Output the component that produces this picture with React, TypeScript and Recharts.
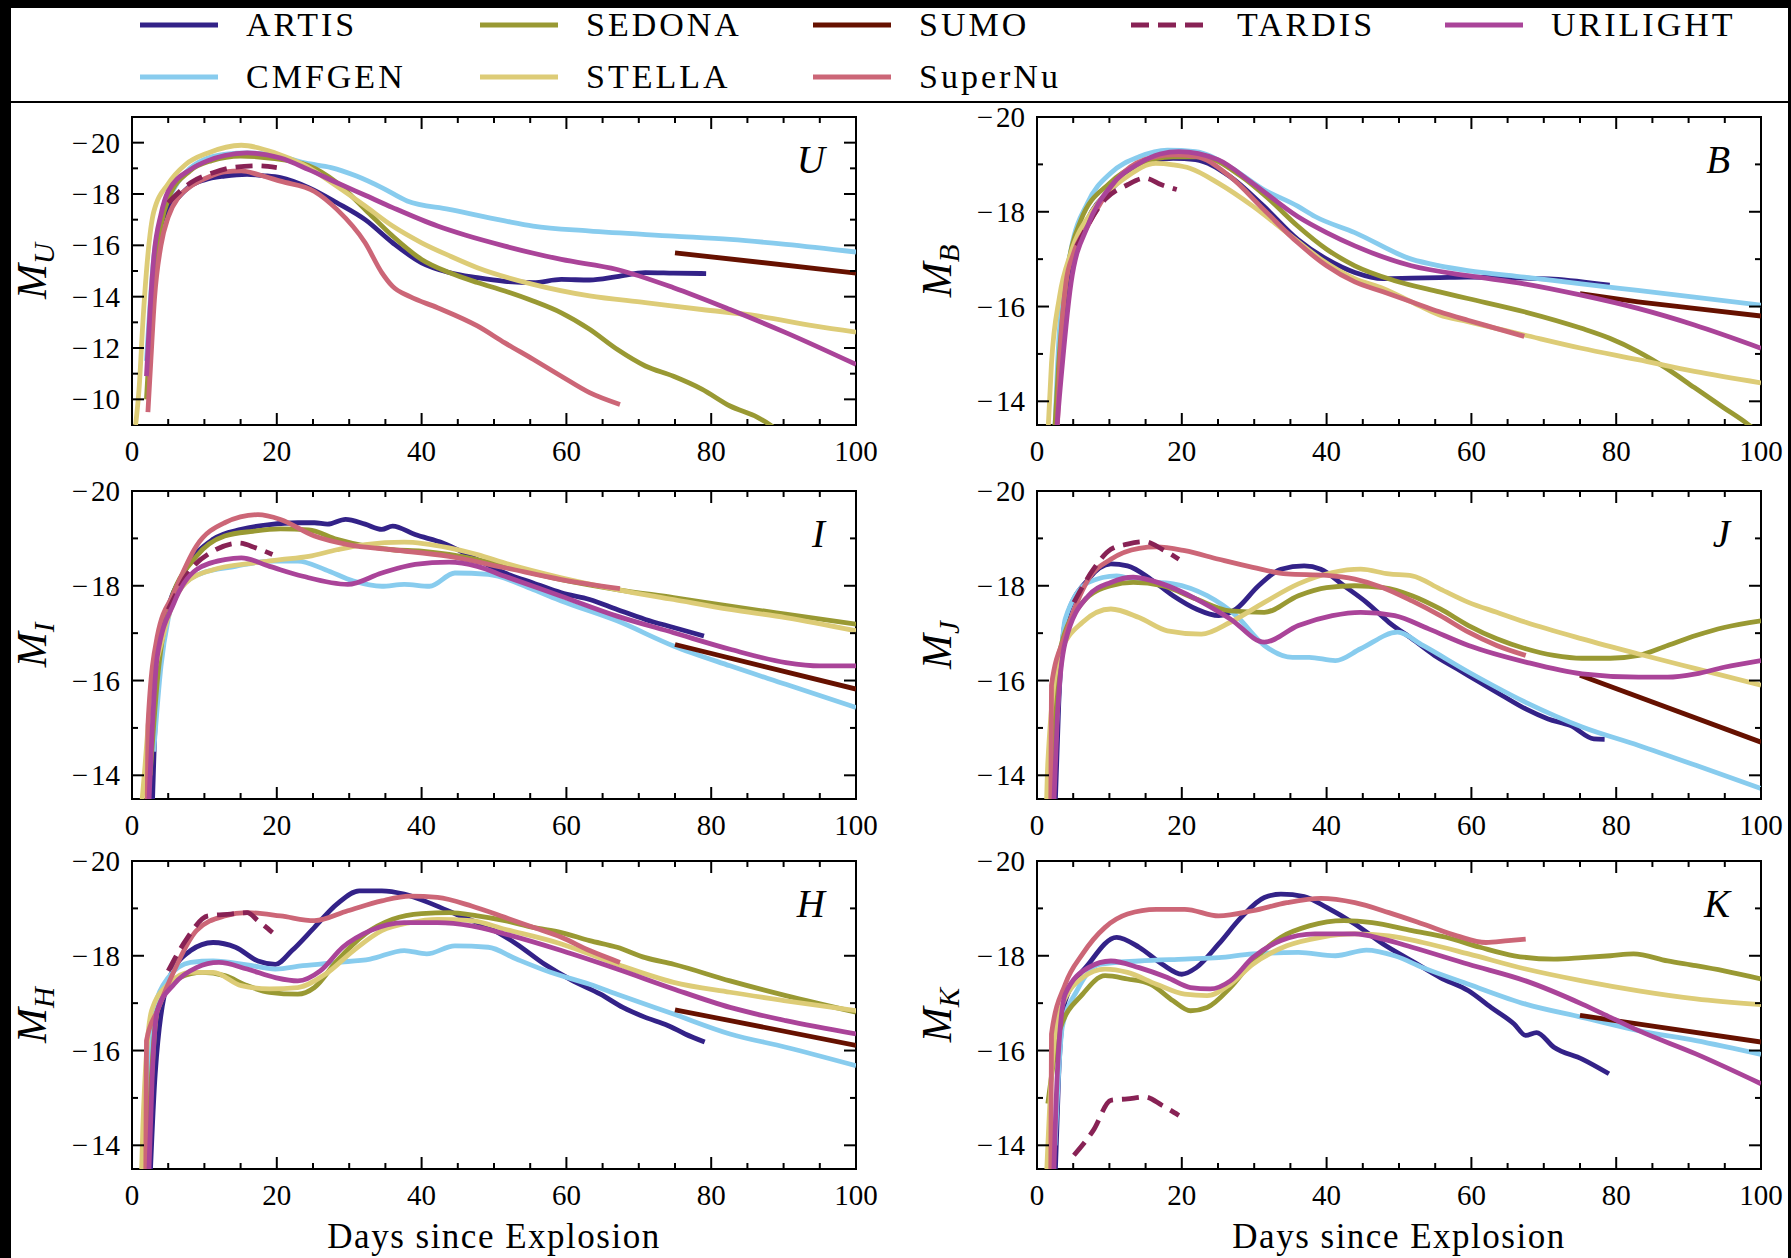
import { Customized, Line, LineChart, XAxis, YAxis } from "recharts";

type Pt = [number, number];

const MODELS = ["ARTIS", "CMFGEN", "SEDONA", "STELLA", "SUMO", "SuperNu", "TARDIS", "URILIGHT"];

const MODEL_COLORS: Record<string, string> = {
  ARTIS: "#332288",
  CMFGEN: "#88CCEE",
  SEDONA: "#999933",
  STELLA: "#DDCC77",
  SUMO: "#661100",
  SuperNu: "#CC6677",
  TARDIS: "#882255",
  URILIGHT: "#AA4499",
};

const X_TICKS = [0, 5, 10, 15, 20, 25, 30, 35, 40, 45, 50, 55, 60, 65, 70, 75, 80, 85, 90, 95, 100];
const U_Y_TICKS = [-20, -19, -18, -17, -16, -15, -14, -13, -12, -11, -10];
const NIR_Y_TICKS = [-20, -19, -18, -17, -16, -15, -14];

// ---- U band ----
const U_ARTIS: Pt[] = [[2.5, -12], [3, -15], [4, -16.8], [5, -17.4], [6.5, -17.9], [8, -18.3], [10, -18.55], [12.8, -18.7], [15.9, -18.77], [18, -18.72], [20.5, -18.64], [24.4, -18.25], [28.3, -17.66], [32.2, -17.0], [36, -16.1], [40, -15.32], [43.8, -14.94], [47.7, -14.74], [51.5, -14.6], [55.4, -14.55], [59.3, -14.67], [63.2, -14.65], [67, -14.78], [70.9, -14.94], [74.8, -14.92], [79.3, -14.9]];
const U_CMFGEN: Pt[] = [[2, -11.5], [3, -15.5], [4, -17], [6, -18.3], [8, -19], [10, -19.35], [13, -19.55], [16, -19.6], [20, -19.5], [24, -19.2], [27.5, -19.03], [31, -18.7], [34.5, -18.25], [38, -17.73], [43.8, -17.4], [51.5, -16.95], [55.4, -16.75], [63, -16.56], [74.8, -16.36], [82.6, -16.23], [90.3, -16.04], [100, -15.74]];
const U_SEDONA: Pt[] = [[2, -10], [3, -14.5], [5, -17.8], [8, -18.9], [11, -19.3], [15, -19.48], [19, -19.4], [24.4, -19.1], [28.3, -18.44], [32.2, -17.4], [36, -16.36], [40, -15.45], [43.8, -14.94], [47.7, -14.55], [51.5, -14.22], [55.4, -13.83], [59.3, -13.37], [63.2, -12.73], [67, -11.95], [70.9, -11.3], [74.8, -10.9], [78.7, -10.4], [82.6, -9.74], [86.4, -9.3], [88, -9.03], [90, -8.6]];
const U_STELLA: Pt[] = [[0.5, -9], [1, -10.5], [1.5, -13], [2, -15], [3, -17.3], [5, -18.4], [7.4, -19.15], [10.5, -19.6], [15.1, -19.9], [19.8, -19.6], [23.6, -19.15], [28.3, -18.3], [32.2, -17.53], [36, -16.75], [40, -16.1], [43.8, -15.6], [47.7, -15.13], [55.4, -14.48], [63.2, -14.03], [70.9, -13.77], [78.7, -13.5], [86.4, -13.25], [94.2, -12.86], [100, -12.62]];
const U_SUMO: Pt[] = [[75, -15.71], [100, -14.92]];
const U_SUPERNU: Pt[] = [[2.2, -9.5], [2.6, -11.5], [3.1, -13.9], [4, -16], [5, -17.1], [6.5, -17.9], [8.1, -18.3], [10.5, -18.65], [12.8, -18.86], [15.1, -18.9], [17.5, -18.75], [20.5, -18.5], [25.2, -18.1], [28.3, -17.4], [32.2, -16.1], [34.5, -14.94], [36, -14.4], [38.4, -14.0], [42.2, -13.57], [47.7, -12.86], [51.5, -12.2], [55.4, -11.56], [59.3, -10.9], [63.2, -10.26], [67.4, -9.8]];
const U_TARDIS: Pt[] = [[5, -17.66], [8.1, -18.44], [11.2, -18.83], [14.3, -19.05], [17.4, -19.1], [20, -19.03]];
const U_URILIGHT: Pt[] = [[2, -10.9], [2.5, -13.5], [3, -15.5], [4, -17.2], [5, -18.1], [8.1, -18.96], [10.5, -19.3], [12.8, -19.5], [15.9, -19.6], [20.5, -19.4], [24.4, -18.95], [28.3, -18.44], [32.2, -17.95], [36, -17.47], [42.2, -16.75], [46, -16.4], [51.5, -15.97], [59.3, -15.45], [67, -15.06], [74.8, -14.35], [82.6, -13.5], [90.3, -12.6], [100, -11.36]];

// ---- B band ----
const B_ARTIS: Pt[] = [[2.5, -13], [3, -14.5], [4, -16], [5, -17], [7, -17.84], [10.2, -18.47], [14.1, -18.95], [18.8, -19.13], [21.9, -19.1], [26.6, -18.75], [31.3, -18.12], [36, -17.42], [40, -17.0], [43.9, -16.72], [47.8, -16.59], [51.7, -16.6], [55.6, -16.61], [59.5, -16.62], [67.3, -16.6], [71.3, -16.58], [79.1, -16.45]];
const B_CMFGEN: Pt[] = [[2.5, -13.5], [3.1, -15.5], [4.7, -17.2], [7, -18.19], [10.2, -18.82], [14.1, -19.16], [18, -19.3], [21.9, -19.27], [26.6, -18.95], [31.3, -18.47], [36, -18.12], [38.4, -17.9], [43.9, -17.56], [51.7, -17.0], [55.6, -16.86], [59.5, -16.76], [67.3, -16.62], [75.2, -16.48], [83, -16.34], [90.8, -16.2], [100, -16.03]];
const B_SEDONA: Pt[] = [[2.3, -13], [3, -14.8], [4, -16.5], [6, -17.8], [10, -18.6], [14, -19.0], [18.8, -19.16], [22.7, -19.16], [28.2, -18.75], [32.1, -18.26], [36, -17.7], [40, -17.21], [43.9, -16.86], [49.3, -16.55], [55.6, -16.31], [59.5, -16.17], [67.3, -15.89], [75.2, -15.54], [79.1, -15.33], [83, -15.05], [86.9, -14.7], [90.8, -14.29], [94.8, -13.87], [97.9, -13.55], [100, -13.3]];
const B_STELLA: Pt[] = [[1.5, -13.3], [2, -14.8], [3.1, -16.2], [4.7, -17.14], [7.8, -18.05], [12.5, -18.75], [16.4, -19.02], [18.8, -18.99], [21.1, -18.92], [25.1, -18.6], [29.8, -18.12], [34.5, -17.56], [39.2, -17.0], [43.9, -16.59], [47.8, -16.38], [51.7, -16.1], [55.6, -15.82], [59.5, -15.68], [63.4, -15.54], [67.3, -15.4], [75.2, -15.12], [83, -14.88], [90.8, -14.63], [100, -14.39]];
const B_SUMO: Pt[] = [[75, -16.27], [83, -16.1], [90.8, -15.96], [100, -15.8]];
const B_SUPERNU: Pt[] = [[2.7, -13], [3.2, -15], [4, -16.5], [5, -17.1], [7, -17.7], [11, -18.68], [14.9, -19.1], [18.8, -19.2], [21.9, -19.17], [26.6, -18.75], [31.3, -18.05], [36, -17.35], [40, -16.86], [43.9, -16.52], [47.8, -16.31], [51.7, -16.1], [55.6, -15.89], [59.5, -15.71], [63.4, -15.54], [67.3, -15.37]];
const B_TARDIS: Pt[] = [[5.5, -17.28], [9.4, -18.26], [12.5, -18.57], [14.9, -18.71], [17.2, -18.57], [19.3, -18.47]];
const B_URILIGHT: Pt[] = [[2.5, -13], [3.1, -14.1], [4.7, -16.5], [7, -17.7], [10.2, -18.54], [14.1, -19.02], [17, -19.22], [19.6, -19.27], [25, -19.1], [29.8, -18.6], [36, -17.9], [40, -17.56], [43.9, -17.28], [51.7, -16.86], [59.5, -16.65], [67.3, -16.48], [75.2, -16.24], [83, -15.96], [90.8, -15.61], [100, -15.12]];

// ---- I band ----
const I_ARTIS: Pt[] = [[2.8, -13.3], [3.3, -15.5], [4.3, -17.08], [7.4, -18.34], [11.2, -18.98], [15.1, -19.19], [19, -19.29], [22.9, -19.33], [25.2, -19.33], [27, -19.3], [29.5, -19.4], [32.2, -19.3], [34.5, -19.19], [36, -19.26], [39.1, -19.08], [43, -18.9], [47.7, -18.55], [51.5, -18.27], [55.4, -18.06], [59.3, -17.85], [63.2, -17.71], [67, -17.5], [70.9, -17.29], [74.8, -17.12], [79, -16.94]];
const I_CMFGEN: Pt[] = [[3, -14.5], [4, -16.3], [5, -17.3], [6.6, -17.92], [9.7, -18.27], [14.3, -18.41], [19, -18.52], [22.9, -18.52], [26.7, -18.34], [30.6, -18.1], [34.5, -17.99], [37.6, -18.03], [41.1, -17.99], [44.6, -18.27], [49.2, -18.24], [55.4, -17.92], [59.3, -17.68], [67, -17.26], [74.8, -16.73], [82.6, -16.31], [90.3, -15.92], [100, -15.43]];
const I_SEDONA: Pt[] = [[2.5, -14], [3.5, -16], [5, -17.5], [8.9, -18.62], [12.8, -19.05], [16.7, -19.15], [20.5, -19.2], [24.4, -19.18], [28.3, -18.98], [32.2, -18.84], [36, -18.76], [40, -18.73], [43.8, -18.66], [47.7, -18.55], [51.5, -18.41], [59.3, -18.13], [67, -17.92], [74.8, -17.75], [82.6, -17.57], [90.3, -17.4], [100, -17.19]];
const I_STELLA: Pt[] = [[1.3, -13.3], [1.8, -14.2], [2.3, -15.19], [4.3, -16.94], [7.4, -18.06], [11.2, -18.34], [16.7, -18.48], [20.5, -18.55], [24.4, -18.62], [28.3, -18.76], [32.2, -18.87], [37.6, -18.92], [43.8, -18.8], [47.7, -18.66], [51.5, -18.48], [59.3, -18.17], [67, -17.92], [74.8, -17.71], [82.6, -17.5], [90.3, -17.33], [100, -17.05]];
const I_SUMO: Pt[] = [[75, -16.76], [100, -15.82]];
const I_SUPERNU: Pt[] = [[2.1, -13.3], [2.2, -15.05], [3.5, -16.94], [5.8, -17.85], [8.9, -18.84], [12.8, -19.33], [17.4, -19.5], [20.5, -19.4], [25.2, -19.05], [29.8, -18.87], [36, -18.76], [43.8, -18.62], [51.5, -18.38], [59.3, -18.13], [67.4, -17.94]];
const I_TARDIS: Pt[] = [[5, -17.5], [8.1, -18.34], [11.2, -18.73], [14.7, -18.9], [17.1, -18.8], [19.4, -18.66]];
const I_URILIGHT: Pt[] = [[2.3, -13.3], [2.8, -15], [3.5, -16.52], [5.8, -17.64], [8.9, -18.34], [12.8, -18.55], [15.1, -18.59], [19, -18.41], [23.6, -18.2], [29.8, -18.03], [34.5, -18.27], [39.1, -18.45], [43.8, -18.5], [47.7, -18.41], [51.5, -18.2], [59.3, -17.78], [67, -17.36], [74.8, -17.01], [82.6, -16.66], [90.3, -16.38], [95, -16.31], [100, -16.31]];

// ---- J band ----
const J_ARTIS: Pt[] = [[2.5, -13.3], [3, -15.5], [3.9, -17.23], [7.1, -18.14], [10.2, -18.46], [12.5, -18.42], [15.7, -18.14], [18.8, -17.79], [22, -17.51], [25.1, -17.37], [27.5, -17.51], [30.6, -18.0], [33.7, -18.35], [36.9, -18.42], [39.2, -18.35], [42.4, -18.0], [45.5, -17.65], [48.6, -17.23], [51.8, -16.88], [54.9, -16.53], [58, -16.25], [61.2, -15.96], [64.3, -15.68], [67.5, -15.4], [70.6, -15.19], [73.7, -15.05], [76.9, -14.77], [78.4, -14.76]];
const J_CMFGEN: Pt[] = [[2.5, -14.5], [3.9, -17.3], [7.1, -18.07], [11, -18.21], [14.1, -18.1], [18.8, -18.04], [23.5, -17.79], [27.5, -17.37], [31.4, -16.74], [35.3, -16.49], [37.6, -16.49], [41.2, -16.42], [44.7, -16.67], [49.8, -17.02], [53.3, -16.74], [59.6, -16.18], [67.5, -15.54], [75.3, -15.02], [83.1, -14.63], [91, -14.21], [100, -13.72]];
const J_SEDONA: Pt[] = [[1.8, -13.3], [3.1, -16.6], [6.3, -17.65], [10.2, -18.0], [13.3, -18.07], [17.3, -18.0], [22, -17.72], [26.7, -17.47], [31.4, -17.44], [36.1, -17.79], [40, -17.96], [43.9, -18.0], [47.8, -17.96], [51.8, -17.79], [55.7, -17.51], [59.6, -17.16], [63.5, -16.88], [67.5, -16.67], [71.4, -16.53], [75.3, -16.47], [79.2, -16.47], [83.1, -16.53], [87.1, -16.74], [91, -16.95], [94.9, -17.12], [100, -17.26]];
const J_STELLA: Pt[] = [[1.3, -13.3], [1.5, -14.28], [3.1, -16.53], [6.3, -17.23], [10.2, -17.51], [14.1, -17.33], [18, -17.05], [22.7, -16.98], [26.7, -17.23], [31.4, -17.65], [36.1, -18.04], [40.8, -18.28], [44.7, -18.35], [48.6, -18.25], [51.8, -18.21], [55.7, -17.93], [59.6, -17.65], [63.5, -17.44], [67.5, -17.23], [75.3, -16.88], [83.1, -16.56], [91, -16.25], [100, -15.9]];
const J_SUMO: Pt[] = [[75, -16.11], [100, -14.7]];
const J_SUPERNU: Pt[] = [[1.9, -13.3], [2, -15.9], [3.9, -16.95], [7.1, -18.14], [10.2, -18.56], [14.1, -18.79], [16.5, -18.82], [20.4, -18.74], [25.1, -18.56], [29.8, -18.39], [34.5, -18.25], [40, -18.22], [43.9, -18.14], [47.8, -17.96], [51.8, -17.68], [55.7, -17.37], [59.6, -17.02], [63.5, -16.74], [67.5, -16.53]];
const J_TARDIS: Pt[] = [[5.1, -17.65], [7.8, -18.35], [10.2, -18.77], [12.5, -18.88], [14.9, -18.93], [17.3, -18.77], [19.6, -18.56]];
const J_URILIGHT: Pt[] = [[2.3, -13.3], [2.8, -15.2], [3.9, -16.81], [7.1, -17.79], [10.2, -18.07], [13.3, -18.18], [17.3, -18.04], [22, -17.72], [26.7, -17.3], [31.4, -16.81], [36.1, -17.16], [40.8, -17.37], [44.7, -17.44], [49.4, -17.37], [54.1, -17.09], [59.6, -16.74], [67.5, -16.39], [75.3, -16.14], [83.1, -16.07], [87.1, -16.07], [91, -16.14], [94.9, -16.28], [100, -16.42]];

// ---- H band ----
const H_ARTIS: Pt[] = [[2.5, -13.3], [3.2, -15.5], [5, -17.47], [8.1, -18.11], [11.2, -18.28], [14.3, -18.18], [17.4, -17.89], [19.8, -17.82], [22.1, -18.11], [25.2, -18.6], [28.3, -19.09], [31.4, -19.37], [34.5, -19.37], [37.6, -19.3], [41.5, -19.09], [45.3, -18.84], [49.2, -18.6], [53.1, -18.25], [57, -17.82], [60.9, -17.47], [64.7, -17.19], [67.8, -16.91], [70.9, -16.7], [74, -16.53], [76.4, -16.35], [79.1, -16.18]];
const H_CMFGEN: Pt[] = [[2.2, -14.5], [2.7, -16.63], [5, -17.54], [8.1, -17.86], [11.2, -17.89], [15.9, -17.81], [19.8, -17.72], [23.6, -17.79], [28.3, -17.86], [32.9, -17.93], [37.6, -18.11], [40.7, -18.04], [44.6, -18.21], [49.2, -18.18], [53.1, -17.93], [57.8, -17.65], [63.2, -17.4], [67, -17.19], [74.8, -16.77], [82.6, -16.35], [90.3, -16.07], [100, -15.68]];
const H_SEDONA: Pt[] = [[2, -13.3], [3.5, -16.84], [6.6, -17.54], [9.7, -17.65], [12.8, -17.58], [15.9, -17.37], [19, -17.23], [22.9, -17.19], [25.2, -17.33], [28.3, -17.89], [32.2, -18.46], [36, -18.77], [40, -18.89], [43.8, -18.91], [47.7, -18.84], [51.5, -18.74], [55.4, -18.6], [59.3, -18.49], [63.2, -18.32], [67, -18.18], [70.9, -17.96], [74.8, -17.82], [82.6, -17.47], [90.3, -17.16], [100, -16.81]];
const H_STELLA: Pt[] = [[1.3, -13.3], [1.5, -14.39], [2.7, -16.84], [5, -17.4], [8.1, -17.65], [11.2, -17.65], [15.1, -17.37], [19, -17.3], [22.9, -17.33], [26.7, -17.61], [30.6, -18.11], [34.5, -18.53], [38.4, -18.7], [42.2, -18.77], [46.9, -18.74], [51.5, -18.56], [59.3, -18.25], [67, -17.82], [74.8, -17.44], [82.6, -17.23], [90.3, -17.05], [100, -16.84]];
const H_SUMO: Pt[] = [[75, -16.86], [100, -16.11]];
const H_SUPERNU: Pt[] = [[1.9, -13.3], [2, -16.21], [3.5, -16.84], [5.8, -17.68], [8.9, -18.53], [12.8, -18.84], [15.9, -18.91], [20.5, -18.84], [25.2, -18.74], [29.8, -18.95], [34.5, -19.16], [38.4, -19.26], [42.2, -19.23], [46.9, -19.05], [51.5, -18.81], [55.4, -18.6], [59.3, -18.39], [63.2, -18.11], [67.4, -17.86]];
const H_TARDIS: Pt[] = [[5, -17.68], [7.4, -18.32], [10.5, -18.84], [13.6, -18.88], [15.9, -18.91], [17.4, -18.74], [19.4, -18.49]];
const H_URILIGHT: Pt[] = [[2.3, -13.3], [2.8, -15.5], [3.5, -16.84], [5.8, -17.4], [8.9, -17.75], [12, -17.86], [15.9, -17.72], [19.8, -17.54], [22.9, -17.47], [26, -17.68], [29.1, -18.18], [32.9, -18.53], [37.6, -18.7], [42.2, -18.7], [46.9, -18.63], [51.5, -18.46], [59.3, -18.11], [67, -17.72], [74.8, -17.3], [82.6, -16.91], [90.3, -16.63], [100, -16.35]];

// ---- K band ----
const K_ARTIS: Pt[] = [[2.5, -13.3], [3, -15.5], [3.9, -17.05], [7.1, -17.82], [11, -18.39], [14.1, -18.18], [17.3, -17.82], [20, -17.61], [22, -17.75], [25.1, -18.25], [28.2, -18.81], [31.4, -19.23], [33.7, -19.3], [36.9, -19.25], [40, -19.02], [43.9, -18.67], [47.8, -18.25], [51.8, -17.89], [55.7, -17.54], [59.6, -17.26], [62.7, -16.91], [65.9, -16.56], [67.5, -16.32], [69, -16.38], [71.4, -16.07], [75.3, -15.82], [79, -15.51]];
const K_CMFGEN: Pt[] = [[2.5, -14], [3.5, -16.5], [5.5, -17.26], [8.6, -17.82], [14.1, -17.89], [20.4, -17.93], [25.1, -17.96], [29.8, -18.04], [36.1, -18.07], [41.2, -18.0], [45.5, -18.12], [49.4, -18.0], [53.3, -17.75], [59.6, -17.4], [67.5, -16.98], [75.3, -16.7], [83.1, -16.42], [91, -16.21], [100, -15.92]];
const K_SEDONA: Pt[] = [[1.5, -14.88], [3.1, -16.42], [6.3, -17.19], [9.4, -17.58], [12.5, -17.51], [15.7, -17.4], [18.8, -17.05], [21.2, -16.84], [23.5, -16.91], [26.7, -17.33], [29.8, -17.89], [33.7, -18.39], [37.6, -18.63], [42.4, -18.74], [46.3, -18.7], [51.8, -18.53], [56.5, -18.39], [61.2, -18.18], [65.9, -18.0], [71.4, -17.93], [75.3, -17.96], [79.2, -18.0], [82.4, -18.04], [87.1, -17.89], [91, -17.79], [94.9, -17.68], [100, -17.51]];
const K_STELLA: Pt[] = [[1.3, -13.3], [2, -15.5], [3.1, -16.8], [6.3, -17.54], [9.4, -17.72], [12.5, -17.65], [16.5, -17.4], [20.4, -17.19], [23.5, -17.16], [26.7, -17.4], [29.8, -17.82], [34.5, -18.21], [39.2, -18.39], [43.9, -18.46], [48.6, -18.42], [53.3, -18.28], [59.6, -18.04], [67.5, -17.72], [75.3, -17.47], [83.1, -17.26], [91, -17.09], [100, -16.97]];
const K_SUMO: Pt[] = [[75, -16.74], [100, -16.18]];
const K_SUPERNU: Pt[] = [[1.9, -13.3], [2, -16.35], [3.9, -17.4], [6.3, -18.04], [9.4, -18.6], [12.5, -18.88], [16.5, -18.98], [20.4, -18.98], [25.1, -18.84], [29.8, -18.95], [34.5, -19.12], [39.2, -19.21], [43.9, -19.12], [48.6, -18.91], [53.3, -18.67], [58, -18.42], [62, -18.28], [65.1, -18.32], [67.5, -18.35]];
const K_TARDIS: Pt[] = [[5.1, -13.79], [7.8, -14.32], [10.2, -14.95], [12.5, -14.98], [14.9, -15.02], [17.3, -14.84], [19.6, -14.63]];
const K_URILIGHT: Pt[] = [[2.3, -13.3], [2.8, -15.5], [3.9, -17.19], [7.1, -17.75], [10.2, -17.89], [14.1, -17.75], [18, -17.54], [21.2, -17.33], [23.9, -17.3], [26.7, -17.47], [29.8, -17.96], [33.7, -18.32], [38.4, -18.46], [43.9, -18.46], [47.8, -18.35], [51.8, -18.18], [59.6, -17.82], [67.5, -17.47], [75.3, -16.98], [79.2, -16.7], [83.1, -16.42], [91, -15.93], [100, -15.3]];

const PANELS = [
  { band: "U", domain: [-21, -9], ticks: U_Y_TICKS, series: [U_ARTIS, U_CMFGEN, U_SEDONA, U_STELLA, U_SUMO, U_SUPERNU, U_TARDIS, U_URILIGHT] },
  { band: "B", domain: [-20, -13.5], ticks: NIR_Y_TICKS, series: [B_ARTIS, B_CMFGEN, B_SEDONA, B_STELLA, B_SUMO, B_SUPERNU, B_TARDIS, B_URILIGHT] },
  { band: "I", domain: [-20, -13.5], ticks: NIR_Y_TICKS, series: [I_ARTIS, I_CMFGEN, I_SEDONA, I_STELLA, I_SUMO, I_SUPERNU, I_TARDIS, I_URILIGHT] },
  { band: "J", domain: [-20, -13.5], ticks: NIR_Y_TICKS, series: [J_ARTIS, J_CMFGEN, J_SEDONA, J_STELLA, J_SUMO, J_SUPERNU, J_TARDIS, J_URILIGHT] },
  { band: "H", domain: [-20, -13.5], ticks: NIR_Y_TICKS, series: [H_ARTIS, H_CMFGEN, H_SEDONA, H_STELLA, H_SUMO, H_SUPERNU, H_TARDIS, H_URILIGHT] },
  { band: "K", domain: [-20, -13.5], ticks: NIR_Y_TICKS, series: [K_ARTIS, K_CMFGEN, K_SEDONA, K_STELLA, K_SUMO, K_SUPERNU, K_TARDIS, K_URILIGHT] },
];

const FONT = '"Liberation Serif", "DejaVu Serif", serif';
const PLOT_W = 724;
const PLOT_H = 308;
// axes are 1px wide/high (Recharts skips a 0-sized axis), so the margins are 1px smaller
const MARGIN = { top: 15, right: 24, bottom: 94, left: 124 };
const COL_X = [132, 1037];
const ROW_Y = [117, 491, 861];
const LEGEND_X = [140, 480, 813, 1131, 1445];
const LEGEND_Y = [25, 77];

const toXY = (pts: Pt[]) => pts.map(([x, y]) => ({ x, y }));

function XTick(props: any) {
  const { x, y, payload } = props;
  const v = payload.value as number;
  const major = v % 20 === 0;
  const len = major ? 12 : 6;
  return (
    <g>
      <line x1={x} y1={y} x2={x} y2={y - len} stroke="#000" strokeWidth={2} />
      <line x1={x} y1={y - PLOT_H} x2={x} y2={y - PLOT_H + len} stroke="#000" strokeWidth={2} />
      {major && (
        <text x={x} y={y + 36} textAnchor="middle" fontFamily={FONT} fontSize={29} fill="#000">
          {v}
        </text>
      )}
    </g>
  );
}

function YTick(props: any) {
  const { x, y, payload } = props;
  const v = payload.value as number;
  const major = v % 2 === 0;
  const len = major ? 12 : 6;
  return (
    <g>
      <line x1={x} y1={y} x2={x + len} y2={y} stroke="#000" strokeWidth={2} />
      <line x1={x + PLOT_W} y1={y} x2={x + PLOT_W - len} y2={y} stroke="#000" strokeWidth={2} />
      {major && (
        <text x={x - 12} y={y + 10} textAnchor="end" fontFamily={FONT} fontSize={29} fill="#000">
          <tspan>{"\u2212"}</tspan>
          <tspan dx={3}>{Math.abs(v)}</tspan>
        </text>
      )}
    </g>
  );
}

function PanelDecor({ band, xLabel }: { band: string; xLabel: boolean }) {
  const L = MARGIN.left + 1;
  const T = MARGIN.top;
  const cy = T + PLOT_H / 2;
  return (
    <g fontFamily={FONT} fill="#000">
      <rect x={L} y={T} width={PLOT_W} height={PLOT_H} fill="none" stroke="#000" strokeWidth={2} />
      <text x={L + PLOT_W - 31} y={T + 56} textAnchor="end" fontStyle="italic" fontSize={39}>
        {band}
      </text>
      <text transform={`rotate(-90 ${L - 86} ${cy})`} x={L - 86} y={cy} textAnchor="middle" fontSize={42}>
        <tspan fontStyle="italic">M</tspan>
        <tspan fontStyle="italic" fontSize={29} dy={8}>
          {band}
        </tspan>
      </text>
      {xLabel && (
        <text x={L + PLOT_W / 2} y={T + PLOT_H + 79} textAnchor="middle" fontSize={35} letterSpacing={1.5}>
          Days since Explosion
        </text>
      )}
    </g>
  );
}

function Panel({ index }: { index: number }) {
  const p = PANELS[index];
  const col = index % 2;
  const row = Math.floor(index / 2);
  return (
    <div style={{ position: "absolute", left: COL_X[col] - MARGIN.left - 1, top: ROW_Y[row] - MARGIN.top }}>
      <LineChart
        width={PLOT_W + MARGIN.left + 1 + MARGIN.right}
        height={PLOT_H + MARGIN.top + MARGIN.bottom + 1}
        margin={MARGIN}
      >
        <XAxis
          dataKey="x"
          type="number"
          domain={[0, 100]}
          ticks={X_TICKS}
          interval={0}
          allowDataOverflow
          height={1}
          tickSize={0}
          tickMargin={0}
          tickLine={false}
          axisLine={false}
          tick={(props: any) => <XTick {...props} />}
        />
        <YAxis
          type="number"
          domain={p.domain}
          reversed
          ticks={p.ticks}
          interval={0}
          allowDataOverflow
          width={1}
          tickSize={0}
          tickMargin={0}
          tickLine={false}
          axisLine={false}
          tick={(props: any) => <YTick {...props} />}
        />
        {p.series.map((pts, i) => (
          <Line
            key={MODELS[i]}
            data={toXY(pts)}
            dataKey="y"
            type={MODELS[i] === "SUMO" ? "linear" : "monotone"}
            stroke={MODEL_COLORS[MODELS[i]]}
            strokeWidth={4.8}
            strokeDasharray={MODELS[i] === "TARDIS" ? "17 9" : undefined}
            dot={false}
            activeDot={false}
            isAnimationActive={false}
          />
        ))}
        <Customized component={<PanelDecor band={p.band} xLabel={row === 2} />} />
      </LineChart>
    </div>
  );
}

function LegendBox() {
  return (
    <svg width={1791} height={100} style={{ position: "absolute", left: 0, top: 0 }}>
      {MODELS.map((m, i) => {
        const col = i < 6 ? Math.floor(i / 2) : i - 3;
        const row = i < 6 ? i % 2 : 0;
        const x = LEGEND_X[col];
        const y = LEGEND_Y[row];
        return (
          <g key={m}>
            <line
              x1={x}
              y1={y}
              x2={x + 78}
              y2={y}
              stroke={MODEL_COLORS[m]}
              strokeWidth={4.8}
              strokeDasharray={m === "TARDIS" ? "18 9" : undefined}
            />
            <text x={x + 106} y={y + 11} fontFamily={FONT} fontSize={34} letterSpacing={3} fill="#000">
              {m}
            </text>
          </g>
        );
      })}
    </svg>
  );
}

export default function App() {
  return (
    <div style={{ position: "absolute", left: 0, top: 0, width: 1791, height: 1258, overflow: "hidden", background: "#000" }}>
      <div style={{ position: "absolute", left: 11, top: 8, width: 1777, height: 1250, background: "#fff" }} />
      <div style={{ position: "absolute", left: 11, top: 101, width: 1777, height: 2, background: "#000" }} />
      <LegendBox />
      {PANELS.map((p, i) => (
        <Panel key={p.band} index={i} />
      ))}
    </div>
  );
}
